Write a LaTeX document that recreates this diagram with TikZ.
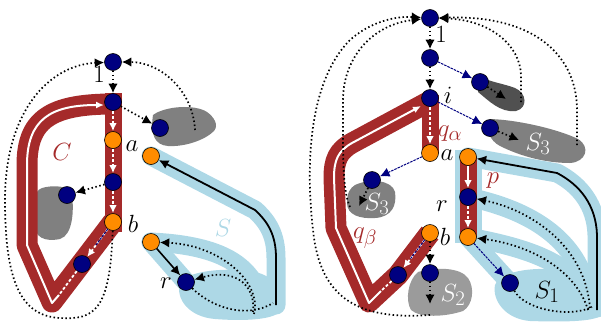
\documentclass[tikz,border=0pt]{standalone}
\usetikzlibrary{arrows.meta}
\pgfdeclarelayer{back}
\pgfdeclarelayer{mid}
\pgfsetlayers{back,mid,main}
\definecolor{cred}{RGB}{165,42,42}
\definecolor{cblue}{RGB}{0,0,128}
\definecolor{corange}{RGB}{255,140,0}
\definecolor{clb}{RGB}{173,216,230}
\definecolor{cgray}{RGB}{128,128,128}
\definecolor{cdark}{RGB}{80,80,80}
\definecolor{clgray}{RGB}{155,155,155}
\tikzset{
 bn/.style={circle,draw=black,line width=0.6pt,fill=cblue,minimum size=17pt,inner sep=0pt},
 onode/.style={bn,fill=corange},
 dots/.style={line width=1.7pt,dash pattern=on 1.5pt off 2.5pt},
 arr/.style={-{Latex[length=9.5pt,width=9.5pt]}},
 bdash/.style={cblue,line width=1pt,dash pattern=on 2.5pt off 1pt},
 wdots/.style={white,line width=1.8pt,dash pattern=on 3pt off 2pt,-{Latex[length=8pt,width=7.5pt]}},
 wline/.style={white,line width=2pt,line join=round,-{Latex[length=8pt,width=7pt]}},
 redband/.style={cred,line width=17pt},
 loopband/.style={cred,line width=21pt,line join=round},
 sband/.style={clb,line width=19pt,line cap=round,line join=round},
 lbl/.style={font=\fontsize{28}{28}\selectfont,inner sep=0pt},
 big/.style={font=\fontsize{32}{32}\selectfont,inner sep=0pt},
}
\begin{document}
\begin{tikzpicture}[x=1pt,y=-1pt]
\useasboundingbox (0,0) rectangle (601,322);
% ---------------- left panel nodes
\node[bn] (L1) at (113,62) {};
\node[bn] (Li) at (113,102) {};
\node[onode] (La) at (113,140) {};
\node[bn] (Lm) at (113,182) {};
\node[onode] (Lb) at (113,222) {};
\node[bn] (Lq) at (82,264) {};
\node[bn] (Lg1) at (160,128) {};
\node[bn] (Lg2) at (67,195) {};
\node[onode] (La2) at (151,156) {};
\node[onode] (Lb2) at (151,242) {};
\node[bn] (Lr) at (186,282) {};
% ---------------- right panel nodes
\node[bn] (R1) at (430,18) {};
\node[bn] (R2) at (430,58) {};
\node[bn] (Ri) at (430,98) {};
\node[onode] (Ra) at (430,153) {};
\node[onode] (Rb) at (430,233) {};
\node[bn] (Rq) at (398,275) {};
\node[bn] (RS2) at (430,273) {};
\node[bn] (RS3l) at (372,180) {};
\node[bn] (Rd) at (480,82) {};
\node[bn] (RS3r) at (490,128) {};
\node[onode] (Ra2) at (468,157) {};
\node[bn] (Rr) at (468,197) {};
\node[onode] (Rb2) at (468,237) {};
\node[bn] (RS1) at (510,283) {};

\begin{pgfonlayer}{back}
% left blobs
\fill[cgray] (153,115) .. controls (165,106) and (195,104) .. (207,112) .. controls (214,117) and (219,125) .. (214,131) .. controls (205,140) and (185,147) .. (168,146) .. controls (155,145) and (150,135) .. (153,115) -- cycle;
\fill[cgray] (42,188) .. controls (52,185) and (70,185) .. (72,195) .. controls (74,210) and (73,235) .. (60,239) .. controls (45,242) and (34,238) .. (34,222) .. controls (33,205) and (33,191) .. (42,188) -- cycle;
% left light blue S
\draw[sband] (La2.center) -- (255,210) .. controls (268,222) and (276,235) .. (276,258) -- (276,305);
\draw[sband] (Lb2.center) -- (Lr.center);
\draw[sband] (Lb2.center) .. controls (215,245) and (250,262) .. (260,298);
\fill[clb] (180,282) .. controls (190,270) and (230,267) .. (255,272) .. controls (275,276) and (284,292) .. (282,308) .. controls (279,321) and (240,321) .. (215,319) .. controls (190,317) and (175,300) .. (180,282) -- cycle;
% right blobs
\fill[cdark] (478,76) .. controls (490,82) and (505,84) .. (515,88) .. controls (527,93) and (528,108) .. (516,111) .. controls (500,113) and (488,100) .. (478,92) -- cycle;
\fill[cgray] (490,119) .. controls (520,120) and (560,130) .. (578,139) .. controls (591,147) and (586,162) .. (570,163) .. controls (545,163) and (520,156) .. (500,146) .. controls (490,141) and (484,128) .. (490,119) -- cycle;
\fill[cgray] (355,185) .. controls (370,178) and (392,180) .. (395,192) .. controls (397,205) and (392,217) .. (375,218) .. controls (360,219) and (347,215) .. (347,203) .. controls (347,193) and (350,188) .. (355,185) -- cycle;
\fill[clgray] (418,272) .. controls (435,267) and (460,267) .. (468,278) .. controls (475,288) and (473,305) .. (463,311) .. controls (445,317) and (420,318) .. (411,310) .. controls (405,300) and (408,280) .. (418,272) -- cycle;
% right light blue S1
\fill[clb] (455,150) rectangle (482,243);
\draw[sband] (Ra2.center) -- (557,173) .. controls (580,185) and (596,205) .. (597,235) -- (597,308);
\draw[sband] (Rr.center) .. controls (530,210) and (583,240) .. (590,305);
\draw[sband] (Rb2.center) .. controls (540,250) and (578,268) .. (590,305);
\draw[sband] (Rb2.center) -- (RS1.center);
\fill[clb] (495,285) .. controls (500,270) and (540,265) .. (575,272) .. controls (600,278) and (603,300) .. (601,315) .. controls (596,322) and (560,322) .. (530,321) .. controls (505,319) and (492,300) .. (495,285) -- cycle;
\end{pgfonlayer}

\begin{pgfonlayer}{mid}
% left red band C
\draw[redband] (113,93) -- (113,232);
\draw[loopband] (Lb.center) -- (52,302) -- (27,245) -- (27,165) .. controls (27,120) and (50,104) .. (113,104);
\draw[wline] (59,295) -- (52,303) -- (27,245) -- (27,165) .. controls (27,120) and (50,105) .. (104,105);
% right red bands
\draw[redband] (430,95) -- (430,153);
\draw[redband] (468,157) -- (468,237);
\draw[loopband] (Rb.center) -- (Rq.center) -- (369,302) -- (336,228) -- (334,178) .. controls (334,160) and (338,151) .. (352,143) -- (430,101);
\draw[wline] (381,291) -- (369,303) -- (336,228) -- (334,178) .. controls (334,160) and (338,151) .. (352,143) -- (421,106);
\end{pgfonlayer}

% ---------------- left connectors
\draw[dots,arr] (L1) -- (Li);
\draw[dots,arr] (Li) -- (Lg1);
\draw[dots,arr] (Lm) -- (Lg2);
\draw[dots,arr] (195,130) .. controls (193,90) and (160,62) .. (L1);
\draw[dots,arr] (Lb) .. controls (110,310) and (95,320) .. (60,318) .. controls (20,316) and (5,280) .. (5,200) .. controls (5,110) and (50,65) .. (L1);
\draw[wdots] (Li) -- (La);
\draw[wdots] (La) -- (Lm);
\draw[wdots] (Lm) -- (Lb);
\draw[wdots] (Lb) -- (Lq);
\draw[bdash,shorten >=14pt] (Lb) -- (Lq);
\draw[white,line width=1.8pt,dash pattern=on 3pt off 2pt] (Lq) -- (59,295);
\draw[line width=1.8pt,arr] (276,305) -- (276,258) .. controls (276,235) and (268,222) .. (255,210) -- (La2);
\draw[line width=1.6pt,arr] (Lb2) -- (Lr);
\draw[dots,arr] (254,314) .. controls (262,282) and (220,245) .. (Lb2);
\draw[dots,arr] (253,312) .. controls (256,285) and (235,268) .. (Lr);
\draw[dots] (Lr) .. controls (210,306) and (245,320) .. (273,303);
% ---------------- right connectors
\draw[dots,arr] (R1) -- (R2);
\draw[dots,arr] (R2) -- (Ri);
\draw[bdash,arr] (R2) -- (Rd);
\draw[bdash,arr] (Ri) -- (RS3r);
\draw[dots,arr] (Rd) -- (506,99);
\draw[dots,arr] (RS3r) -- (519,140);
\draw[wdots] (Ri) -- (Ra);
\draw[bdash,arr] (Ra) -- (RS3l);
\draw[dots,arr] (RS3l) -- (359,206);
\draw[wdots] (Rb) -- (Rq);
\draw[bdash,shorten >=12pt] (Rb) -- (Rq);
\draw[white,line width=1.8pt,dash pattern=on 3pt off 2pt] (Rq) -- (381,291);
\draw[dots,arr] (Rb) -- (RS2);
\draw[dots,arr] (RS2) -- (430,304);
\draw[white,line width=2pt,-{Latex[length=8pt,width=7.5pt]}] (Ra2) -- (Rr);
\draw[wdots] (Rr) -- (Rb2);
\draw[bdash,arr] (Rb2) -- (RS1);
\draw[line width=1.8pt,arr] (597,310) -- (597,235) .. controls (596,205) and (580,185) .. (557,173) -- (Ra2);
\draw[dots,arr] (590,308) .. controls (585,245) and (530,210) .. (Rr);
\draw[dots,arr] (588,310) .. controls (576,270) and (530,245) .. (Rb2);
\draw[dots] (RS1) .. controls (525,310) and (570,318) .. (592,307);
% top loops
\draw[dots,arr] (430,315) .. controls (360,320) and (320,300) .. (313,230) .. controls (305,160) and (310,80) .. (350,40) .. controls (370,22) and (395,16) .. (R1);
\draw[dots,arr] (350,207) .. controls (342,190) and (343,150) .. (343,100) .. controls (343,60) and (370,25) .. (R1);
\draw[dots,arr] (521,102) -- (521,75) .. controls (520,45) and (490,20) .. (R1);
\draw[dots,arr] (577,145) -- (577,110) .. controls (577,60) and (540,15) .. (R1);

% ---------------- labels
\node[lbl,font=\fontsize{34}{34}\selectfont] (t1) at (99,74) {$1$};
\node[lbl] (ta) at (132,146) {$a$};
\node[lbl] (tb) at (133,224) {$b$};
\node[lbl] (tr) at (166,283) {$r$};
\node[big,text=cred] (tC) at (62,152) {$C$};
\node[big,text=clb,font=\fontsize{36}{36}\selectfont] (tS) at (223,228) {$S$};
\node[lbl,font=\fontsize{26}{26}\selectfont] (t1r) at (441,34) {$1$};
\node[lbl] (ti) at (448,95) {$i$};
\node[lbl,text=cred] (tqa) at (450,134) {$q_\alpha$};
\node[lbl] (tar) at (447,155) {$a$};
\node[lbl,text=cred] (tp) at (493,181) {$p$};
\node[lbl] (trr) at (442,206) {$r$};
\node[lbl] (tbr) at (445,237) {$b$};
\node[lbl,text=cred] (tqb) at (365,238) {$q_\beta$};
\node[lbl,text=white] (tS3l) at (377,204) {$S_3$};
\node[lbl,text=white] (tS2) at (453,295) {$S_2$};
\node[lbl,text=white] (tS3r) at (538,144) {$S_3$};
\node[lbl] (tS1) at (547,292) {$S_1$};
\end{tikzpicture}
\end{document}
